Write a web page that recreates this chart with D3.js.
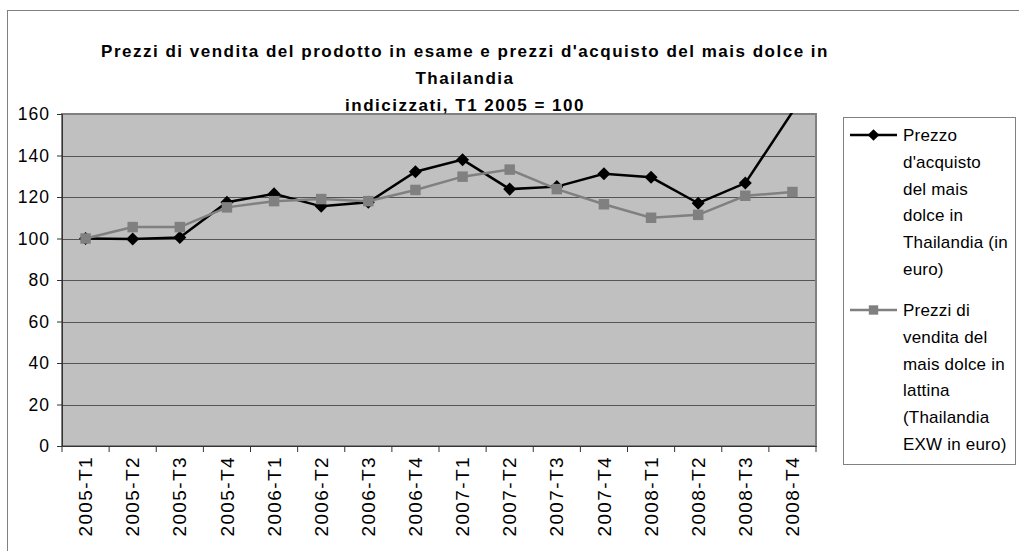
<!DOCTYPE html>
<html>
<head>
<meta charset="utf-8">
<script src="https://cdn.jsdelivr.net/npm/d3@7"></script>
<style>
  body { margin: 0; background: #fff; }
  text { font-family: "Liberation Sans", Arial, sans-serif; }
</style>
</head>
<body>
<div id="chart"></div>
<script>
// Data
var periods = ["2005-T1", "2005-T2", "2005-T3", "2005-T4", "2006-T1", "2006-T2", "2006-T3", "2006-T4",
               "2007-T1", "2007-T2", "2007-T3", "2007-T4", "2008-T1", "2008-T2", "2008-T3", "2008-T4"];
var acquisto = [100, 99.8, 100.5, 117.5, 121.5, 115.5, 117.5, 132.2, 138, 123.8, 125, 131.2, 129.5, 117, 126.7, 161];
var vendita = [100, 105.5, 105.5, 115, 118, 119, 118, 123.4, 129.8, 133.2, 123.8, 116.5, 110, 111.4, 120.6, 122.4];
var yTicks = [0, 20, 40, 60, 80, 100, 120, 140, 160];
var titleLines = ["Prezzi di vendita del prodotto in esame e prezzi d'acquisto del mais dolce in",
                  "Thailandia", "indicizzati, T1 2005 = 100"];
var legend1 = ["Prezzo", "d'acquisto", "del mais", "dolce in", "Thailandia (in", "euro)"];
var legend2 = ["Prezzi di", "vendita del", "mais dolce in", "lattina", "(Thailandia", "EXW in euro)"];

var width = 1019, height = 551;
var plotLeft = 62, plotRight = 816, plotTop = 114, plotBottom = 446;

var svg = d3.select("#chart").append("svg")
    .attr("width", width)
    .attr("height", height);

// outer chart frame
svg.append("rect")
    .attr("x", 7.5).attr("y", 10.5)
    .attr("width", 1030).attr("height", 600)
    .attr("fill", "#fff")
    .attr("stroke", "#808080");

var x = d3.scaleBand().domain(periods).range([plotLeft, plotRight]);
var y = d3.scaleLinear().domain([0, 160]).range([plotBottom, plotTop]);

// plot area
svg.append("rect")
    .attr("x", plotLeft).attr("y", plotTop)
    .attr("width", plotRight - plotLeft).attr("height", plotBottom - plotTop)
    .attr("fill", "#c0c0c0");

// gridlines
svg.append("g")
    .selectAll("line")
    .data(yTicks.slice(1))
    .enter()
    .append("line")
    .attr("x1", plotLeft).attr("x2", plotRight)
    .attr("y1", d => Math.round(y(d)) + 0.5)
    .attr("y2", d => Math.round(y(d)) + 0.5)
    .attr("stroke", "#555")
    .attr("stroke-width", 1);

svg.append("rect")
    .attr("x", plotLeft).attr("y", plotTop)
    .attr("width", plotRight - plotLeft).attr("height", plotBottom - plotTop)
    .attr("fill", "none")
    .attr("stroke", "#808080")
    .attr("stroke-width", 2);

// y axis
var yAxis = svg.append("g")
    .attr("transform", "translate(" + plotLeft + ",0)")
    .call(d3.axisLeft(y).tickValues(yTicks).tickSize(5).tickPadding(7));
yAxis.select(".domain").attr("stroke", "#333");
yAxis.selectAll(".tick line").attr("stroke", "#333");
yAxis.selectAll("text")
    .attr("font-size", 17.5)
    .attr("letter-spacing", 1)
    .attr("fill", "#000");

// x axis
var xAxis = svg.append("g")
    .attr("transform", "translate(0," + plotBottom + ")")
    .call(d3.axisBottom(x).tickSize(0));
xAxis.select(".domain").attr("stroke", "#333");
xAxis.selectAll(".tick text")
    .attr("font-size", 19)
    .attr("letter-spacing", 1.4)
    .attr("fill", "#000")
    .attr("transform", "rotate(-90)")
    .attr("text-anchor", "end")
    .attr("x", -10)
    .attr("y", 0)
    .attr("dy", "0.35em");
xAxis.selectAll(".edge")
    .data(d3.range(periods.length + 1))
    .enter()
    .append("line")
    .attr("class", "edge")
    .attr("x1", i => plotLeft + i * x.step())
    .attr("x2", i => plotLeft + i * x.step())
    .attr("y1", 0).attr("y2", 6)
    .attr("stroke", "#333");

// clip for series
svg.append("clipPath").attr("id", "plotclip")
    .append("rect")
    .attr("x", plotLeft).attr("y", plotTop - 1)
    .attr("width", plotRight - plotLeft).attr("height", plotBottom - plotTop + 1);

var line = d3.line()
    .x((d, i) => x(periods[i]) + x.bandwidth() / 2)
    .y(d => y(d));

// diamond = square turned 45 degrees; grey series drawn on top
var series = [
    { values: acquisto, colour: "#000000", size: 85, rot: 45 },
    { values: vendita, colour: "#808080", size: 110, rot: 0 }
];

series.forEach(function(s) {
    var g = svg.append("g").attr("clip-path", "url(#plotclip)");
    g.append("path")
        .datum(s.values)
        .attr("d", line)
        .attr("fill", "none")
        .attr("stroke", s.colour)
        .attr("stroke-width", 2.5);
    g.selectAll("path.mark")
        .data(s.values.map((v, i) => ({ v: v, p: periods[i] })).filter(d => d.v <= 160))
        .enter()
        .append("path")
        .attr("class", "mark")
        .attr("d", d3.symbol().type(d3.symbolSquare).size(s.size))
        .attr("transform", d => "translate(" + (x(d.p) + x.bandwidth() / 2) + "," + y(d.v) + ") rotate(" + s.rot + ")")
        .attr("fill", s.colour);
});

// title
svg.append("g")
    .selectAll("text")
    .data(titleLines)
    .enter()
    .append("text")
    .attr("x", 465)
    .attr("y", (d, i) => 57 + i * 27)
    .attr("text-anchor", "middle")
    .attr("font-size", 17)
    .attr("letter-spacing", 1.5)
    .attr("font-weight", "bold")
    .text(d => d);

// legend
svg.append("rect")
    .attr("x", 843.5).attr("y", 117.5)
    .attr("width", 172).attr("height", 347)
    .attr("fill", "#fff")
    .attr("stroke", "#808080");

function legendItem(lines, y0, s) {
    svg.append("line")
        .attr("x1", 850).attr("x2", 897)
        .attr("y1", y0).attr("y2", y0)
        .attr("stroke", s.colour)
        .attr("stroke-width", 2.5);
    svg.append("path")
        .attr("d", d3.symbol().type(d3.symbolSquare).size(s.size * 0.8))
        .attr("transform", "translate(873.5," + y0 + ") rotate(" + s.rot + ")")
        .attr("fill", s.colour);
    svg.append("g")
        .selectAll("text")
        .data(lines)
        .enter()
        .append("text")
        .attr("x", 903)
        .attr("y", (d, i) => y0 + 6 + i * 26.8)
        .attr("font-size", 17)
        .attr("letter-spacing", 0.2)
        .text(d => d);
}
legendItem(legend1, 135, series[0]);
legendItem(legend2, 310, series[1]);
</script>
</body>
</html>
